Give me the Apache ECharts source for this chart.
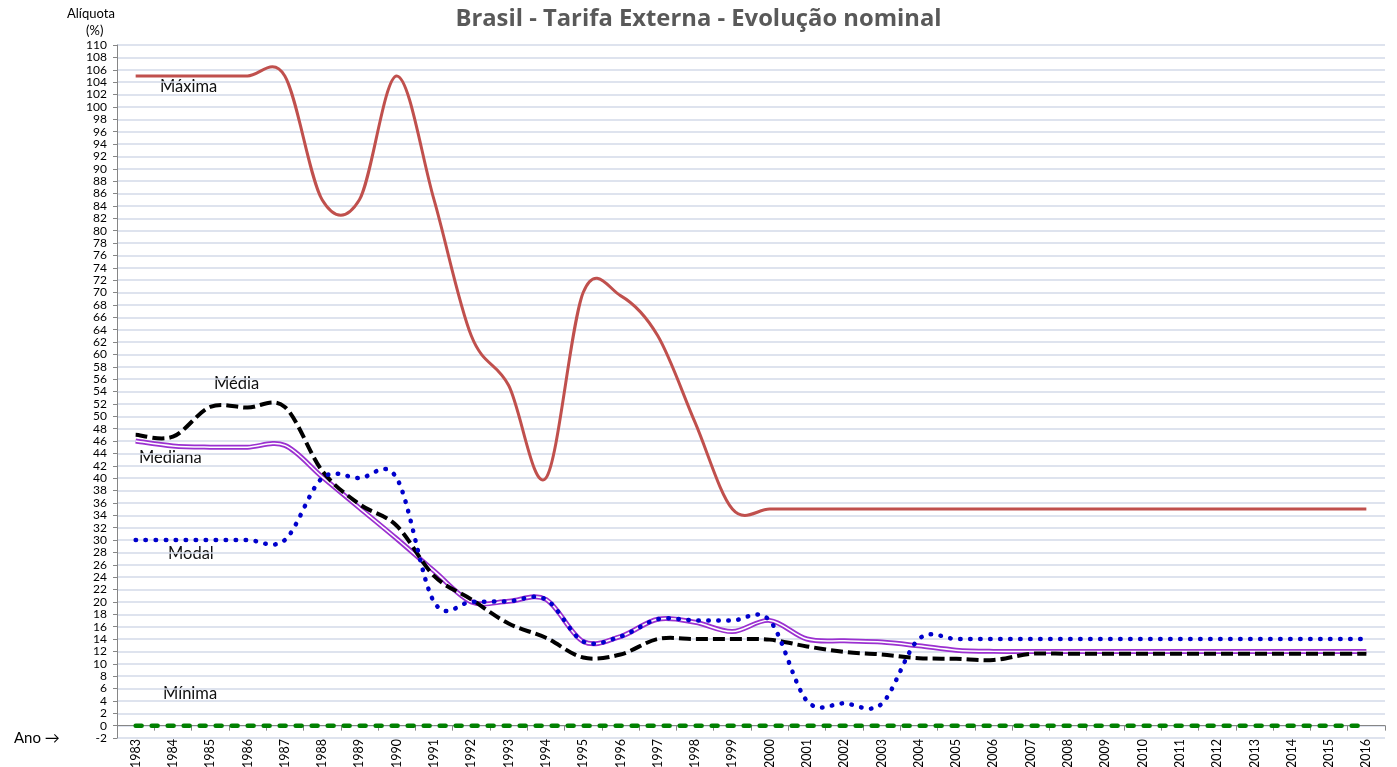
<!DOCTYPE html>
<html>
<head>
<meta charset="utf-8">
<script src="https://cdn.jsdelivr.net/npm/echarts@6/dist/echarts.min.js"></script>
<style>
html, body { margin: 0; padding: 0; background: #fff; }
#chart { width: 1397px; height: 767px; }
</style>
</head>
<body>
<div id="chart"></div>
<script>
var anos = ['1983', '1984', '1985', '1986', '1987', '1988', '1989', '1990', '1991', '1992',
  '1993', '1994', '1995', '1996', '1997', '1998', '1999', '2000', '2001', '2002',
  '2003', '2004', '2005', '2006', '2007', '2008', '2009', '2010', '2011', '2012',
  '2013', '2014', '2015', '2016'];

var maxima = [105, 105, 105, 105, 105, 85, 85, 105, 85, 63,
  55, 40, 70, 69.5, 63, 49, 35, 35, 35, 35,
  35, 35, 35, 35, 35, 35, 35, 35, 35, 35,
  35, 35, 35, 35];

var media = [47, 46.7, 51.5, 51.4, 51.5, 41.2, 35.8, 32.3, 24.2, 20.4,
  16.5, 14.2, 11, 11.5, 14, 14, 14, 13.9, 12.8, 11.9,
  11.5, 10.9, 10.8, 10.6, 11.6, 11.6, 11.6, 11.6, 11.6, 11.6,
  11.6, 11.6, 11.6, 11.6];

var mediana = [46, 45.2, 45, 45, 45.3, 40.2, 35.2, 30.2, 25, 20,
  20.1, 20.4, 13.6, 14.4, 17.2, 16.7, 15.2, 17, 14, 13.7,
  13.5, 12.9, 12.2, 12, 12, 12, 12, 12, 12, 12,
  12, 12, 12, 12];

var modal = [30, 30, 30, 30, 30, 40, 40, 40, 20, 20,
  20.1, 20.4, 13.6, 14.4, 17.2, 17, 17, 17, 4, 3.6,
  3.5, 14, 14, 14, 14, 14, 14, 14, 14, 14,
  14, 14, 14, 14];

var minima = [0, 0, 0, 0, 0, 0, 0, 0, 0, 0,
  0, 0, 0, 0, 0, 0, 0, 0, 0, 0,
  0, 0, 0, 0, 0, 0, 0, 0, 0, 0,
  0, 0, 0, 0];

var fonte = 'Lato, "Open Sans", sans-serif';
var chartDom = document.getElementById('chart');
var chart = echarts.init(chartDom);

// linha suavizada tipo Excel (spline que passa pelos pontos)
function curva(valores, estilo) {
  return function (params, api) {
    if (params.dataIndex !== 0) return null;
    var pts = valores.map(function (v, i) { return api.coord([i, v]); });
    var d = 'M' + pts[0][0] + ' ' + pts[0][1];
    for (var i = 0; i < pts.length - 1; i++) {
      var p0 = pts[i - 1] || pts[i];
      var p1 = pts[i];
      var p2 = pts[i + 1];
      var p3 = pts[i + 2] || pts[i + 1];
      var c1x = p1[0] + (p2[0] - p0[0]) / 6;
      var c1y = p1[1] + (p2[1] - p0[1]) / 6;
      var c2x = p2[0] - (p3[0] - p1[0]) / 6;
      var c2y = p2[1] - (p3[1] - p1[1]) / 6;
      d += ' C' + c1x + ' ' + c1y + ' ' + c2x + ' ' + c2y + ' ' + p2[0] + ' ' + p2[1];
    }
    return {
      type: 'path',
      shape: { pathData: d },
      style: Object.assign({ fill: null }, estilo)
    };
  };
}

function serieCurva(nome, valores, estilo) {
  return {
    name: nome,
    type: 'custom',
    data: valores.map(function (v, i) { return [i, v]; }),
    encode: { x: 0, y: 1 },
    silent: true,
    renderItem: curva(valores, estilo)
  };
}

function rotulo(texto, x, y) {
  return {
    type: 'text', left: x, top: y,
    style: { text: texto, font: '16.5px ' + fonte, fill: '#111' }
  };
}

var option = {
  animation: false,
  backgroundColor: '#fff',
  title: {
    text: 'Brasil - Tarifa Externa - Evolução nominal',
    left: 'center',
    top: 2,
    textStyle: { fontFamily: '"Open Sans", sans-serif', fontSize: 23.8, fontWeight: 'bold', color: '#595959' }
  },
  grid: { left: 117, right: 12, top: 45, bottom: 29, outerBoundsMode: 'none' },
  xAxis: {
    type: 'category',
    data: anos,
    boundaryGap: true,
    axisLine: { onZero: true, lineStyle: { color: '#868686', width: 1 } },
    axisTick: { show: true, length: 5, lineStyle: { color: '#868686' } },
    axisLabel: { rotate: 90, margin: 1, fontSize: 12.5, color: '#000', fontFamily: fonte, interval: 0 },
    splitLine: { show: false }
  },
  yAxis: {
    type: 'value',
    min: -2,
    max: 110,
    interval: 2,
    axisLine: { show: true, lineStyle: { color: '#868686', width: 1 } },
    axisTick: { show: true, length: 4, lineStyle: { color: '#868686' } },
    axisLabel: { fontSize: 12, color: '#000', fontFamily: fonte, margin: 10 },
    splitLine: { show: true, lineStyle: { color: '#d3dae9', width: 1.5 } }
  },
  series: [
    serieCurva('Mediana', mediana, { stroke: '#9b30d0', lineWidth: 5 }),
    serieCurva('Mediana_interna', mediana, { stroke: '#fff', lineWidth: 1.5 }),
    serieCurva('Média', media, { stroke: '#000', lineWidth: 4, lineDash: [12, 5] }),
    serieCurva('Modal', modal, { stroke: '#0000cc', lineWidth: 4.5, lineDash: [0.5, 9.5], lineCap: 'round' }),
    serieCurva('Máxima', maxima, { stroke: '#c0504d', lineWidth: 3 }),
    {
      name: 'Mínima', type: 'line', data: minima, symbol: 'none',
      lineStyle: { color: '#008000', width: 4.5, type: [6, 10], cap: 'round' }
    }
  ],
  graphic: [
    { type: 'text', left: 67, top: 7, style: { text: 'Alíquota', font: '13px ' + fonte, fill: '#000' } },
    { type: 'text', left: 86, top: 24, style: { text: '(%)', font: '13px ' + fonte, fill: '#000' } },
    { type: 'text', left: 14, top: 731, style: { text: 'Ano →', font: '15px ' + fonte, fill: '#000' } },
    rotulo('Máxima', 160, 78),
    rotulo('Média', 214, 375),
    rotulo('Mediana', 139, 449),
    rotulo('Modal', 168, 545),
    rotulo('Mínima', 163, 685)
  ]
};

chart.setOption(option);
</script>
</body>
</html>
